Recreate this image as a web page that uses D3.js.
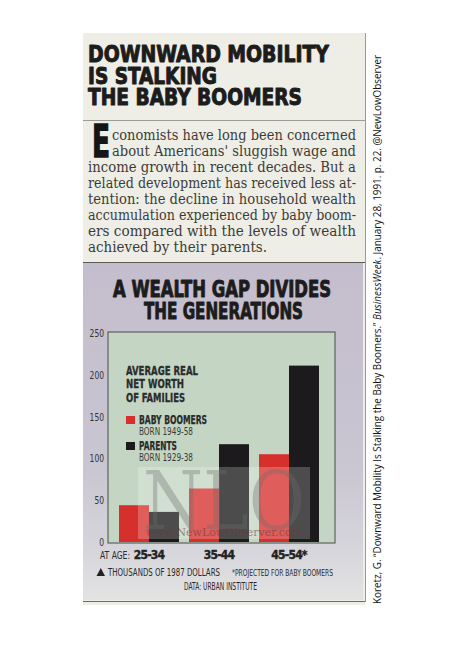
<!DOCTYPE html>
<html>
<head>
<meta charset="utf-8">
<script src="https://cdn.jsdelivr.net/npm/d3@7"></script>
<style>
  html, body { margin: 0; padding: 0; background: #ffffff; }
  svg { display: block; }
</style>
</head>
<body>
<svg id="chart" width="474" height="651"></svg>
<script>
// ---- data ----
const categories = ["25-34", "35-44", "45-54"];
const categoryLabels = ["25-34", "35-44", "45-54*"];
const seriesNames = ["BABY BOOMERS", "PARENTS"];
const seriesBorn = ["BORN 1949-58", "BORN 1929-38"];
const boomers = [44, 64, 105];
const parents = [36, 117, 211];
const yTicks = [0, 50, 100, 150, 200, 250];

const headline = ["DOWNWARD MOBILITY", "IS STALKING", "THE BABY BOOMERS"];
const bodyLines = [
  "conomists have long been concerned",
  "about Americans' sluggish wage and",
  "income growth in recent decades. But a",
  "related development has received less at-",
  "tention: the decline in household wealth",
  "accumulation experienced by baby boom-",
  "ers compared with the levels of wealth",
  "achieved by their parents."
];
const chartTitle = ["A WEALTH GAP DIVIDES", "THE GENERATIONS"];
const legendTitle = ["AVERAGE REAL", "NET WORTH", "OF FAMILIES"];

const svg = d3.select("#chart");
const COND = "'DejaVu Sans Condensed', 'DejaVu Sans', sans-serif";
const SERIF = "'DejaVu Serif', 'Liberation Serif', serif";
const ink = "#2a2a2a";

// ---- page background pieces ----
const defs = svg.append("defs");
const grad = defs.append("linearGradient").attr("id", "panelGrad")
  .attr("x1", 0).attr("y1", 0).attr("x2", 0).attr("y2", 1);
grad.append("stop").attr("offset", "0%").attr("stop-color", "#c4bdcd");
grad.append("stop").attr("offset", "60%").attr("stop-color", "#c9c5d1");
grad.append("stop").attr("offset", "85%").attr("stop-color", "#d6d5db");
grad.append("stop").attr("offset", "100%").attr("stop-color", "#e3e3e3");

svg.append("rect").attr("x", 83).attr("y", 33).attr("width", 282).attr("height", 572)
  .attr("fill", "#efeee6");
svg.append("rect").attr("x", 83).attr("y", 263).attr("width", 280).attr("height", 337)
  .attr("fill", "url(#panelGrad)");
svg.append("line").attr("x1", 83).attr("x2", 365).attr("y1", 120.5).attr("y2", 120.5)
  .attr("stroke", "#9c9c94").attr("stroke-width", 1);
svg.append("line").attr("x1", 83).attr("x2", 365).attr("y1", 262.5).attr("y2", 262.5)
  .attr("stroke", "#5a5a58").attr("stroke-width", 1.2);
svg.append("line").attr("x1", 83).attr("x2", 366).attr("y1", 601.5).attr("y2", 601.5)
  .attr("stroke", "#6a6a68").attr("stroke-width", 1.2);
svg.append("line").attr("x1", 365.5).attr("x2", 365.5).attr("y1", 33).attr("y2", 602)
  .attr("stroke", "#9a9a98").attr("stroke-width", 1);

// ---- headline ----
const headLens = [241, 129, 214];
const headBase = [62, 83.5, 105];
svg.append("g").selectAll("text").data(headline).join("text")
  .attr("x", 88).attr("y", (d, i) => headBase[i])
  .attr("textLength", (d, i) => headLens[i]).attr("lengthAdjust", "spacingAndGlyphs")
  .attr("font-family", COND).attr("font-weight", 900).attr("font-size", 23.5)
  .attr("fill", "#1c1c1c").attr("stroke", "#1c1c1c").attr("stroke-width", 1)
  .attr("stroke-linejoin", "round").text(d => d);

// ---- body text ----
svg.append("text").attr("x", 92).attr("y", 157)
  .attr("textLength", 18).attr("lengthAdjust", "spacingAndGlyphs")
  .attr("font-family", "'DejaVu Sans', sans-serif").attr("font-weight", 900)
  .attr("font-size", 44).attr("fill", "#151515").attr("stroke", "#151515").attr("stroke-width", 1.5)
  .text("E");

svg.append("g").selectAll("text").data(bodyLines).join("text")
  .attr("x", (d, i) => i < 2 ? 112 : 88)
  .attr("y", (d, i) => 140 + i * 16)
  .attr("textLength", (d, i) => i === bodyLines.length - 1 ? 179 : (i < 2 ? 244 : 268))
  .attr("lengthAdjust", "spacingAndGlyphs")
  .attr("font-family", SERIF).attr("font-size", 14)
  .attr("fill", "#3c3c3a").text(d => d);

// ---- chart title ----
const titleX = [113, 144], titleLen = [218, 159], titleBase = [297, 318.5];
svg.append("g").selectAll("text").data(chartTitle).join("text")
  .attr("x", (d, i) => titleX[i]).attr("y", (d, i) => titleBase[i])
  .attr("textLength", (d, i) => titleLen[i]).attr("lengthAdjust", "spacingAndGlyphs")
  .attr("font-family", COND).attr("font-weight", 900).attr("font-size", 23)
  .attr("fill", "#1c1c1c").attr("stroke", "#1c1c1c").attr("stroke-width", 0.9)
  .attr("stroke-linejoin", "round").text(d => d);

// ---- scales ----
const plot = { left: 108, right: 335, top: 332, bottom: 543 };
const y = d3.scaleLinear().domain([0, 250]).range([542, 333]);
const x0 = d3.scaleBand().domain(categories).range([114, 324]).paddingInner(1 / 7).paddingOuter(1 / 14);
const x1 = d3.scaleBand().domain([0, 1]).range([0, x0.bandwidth()]);
const colors = ["#d6302c", "#1c1a1c"];

// plot background
svg.append("rect").attr("x", plot.left).attr("y", plot.top)
  .attr("width", plot.right - plot.left).attr("height", plot.bottom - plot.top)
  .attr("fill", "#c4d6c3").attr("stroke", "#4a4a4a").attr("stroke-width", 1);

// bars
const rows = categories.map((c, i) => ({ c, vals: [boomers[i], parents[i]] }));
const gBars = svg.append("g");
gBars.selectAll("g").data(rows).join("g")
  .attr("transform", d => `translate(${x0(d.c)},0)`)
  .selectAll("rect").data(d => d.vals.map((v, k) => ({ v, k }))).join("rect")
  .attr("x", d => x1(d.k)).attr("width", x1.bandwidth())
  .attr("y", d => y(d.v)).attr("height", d => y(0) - y(d.v))
  .attr("fill", d => colors[d.k]);

// y axis labels
const yAxis = svg.append("g").attr("transform", "translate(105,0)")
  .call(d3.axisLeft(y).tickValues(yTicks).tickSize(0).tickPadding(1));
yAxis.select(".domain").remove();
yAxis.selectAll("text").attr("font-family", COND).attr("font-size", 11)
  .attr("fill", "#333")
  .attr("textLength", d => String(d).length * 4.8).attr("lengthAdjust", "spacingAndGlyphs");

// x axis labels
const xAxis = svg.append("g").attr("transform", "translate(0,547)")
  .call(d3.axisBottom(x0).tickSize(0).tickPadding(3).tickFormat((d, i) => categoryLabels[i]));
xAxis.select(".domain").remove();
xAxis.selectAll("text").attr("font-family", COND).attr("font-weight", "bold")
  .attr("font-size", 12).attr("fill", "#222").attr("stroke", "#222").attr("stroke-width", 0.4)
  .attr("letter-spacing", -0.8);

svg.append("text").attr("x", 100).attr("y", 558.5).attr("textLength", 30).attr("lengthAdjust", "spacingAndGlyphs")
  .attr("font-family", COND).attr("font-size", 10).attr("fill", ink).text("AT AGE:");

// ---- legend ----
svg.append("g").selectAll("text").data(legendTitle).join("text")
  .attr("x", 126).attr("y", (d, i) => 374.5 + i * 13.5)
  .attr("textLength", (d, i) => [72, 58, 59][i]).attr("lengthAdjust", "spacingAndGlyphs")
  .attr("font-family", COND).attr("font-weight", "bold").attr("font-size", 12.5)
  .attr("fill", "#2b2b2b").attr("stroke", "#2b2b2b").attr("stroke-width", 0.3).text(d => d);

const legY = [424, 450];
const leg = svg.append("g");
seriesNames.forEach((name, k) => {
  leg.append("rect").attr("x", 126).attr("y", legY[k] - 8).attr("width", 9).attr("height", 8)
    .attr("fill", colors[k]);
  leg.append("text").attr("x", 139).attr("y", legY[k])
    .attr("textLength", [68, 38][k]).attr("lengthAdjust", "spacingAndGlyphs")
    .attr("font-family", COND).attr("font-weight", "bold").attr("font-size", 11.5)
    .attr("fill", "#2b2b2b").attr("stroke", "#2b2b2b").attr("stroke-width", 0.25).text(name);
  leg.append("text").attr("x", 139).attr("y", legY[k] + 11)
    .attr("textLength", 54).attr("lengthAdjust", "spacingAndGlyphs")
    .attr("font-family", COND).attr("font-size", 10)
    .attr("fill", "#3a3a3a").text(seriesBorn[k]);
});

// ---- watermark ----
const wm = svg.append("g");
wm.append("rect").attr("x", 138).attr("y", 467).attr("width", 172).attr("height", 72)
  .attr("fill", "#ffffff").attr("opacity", 0.22);
wm.append("text").attr("x", 224).attr("y", 529).attr("text-anchor", "middle")
  .attr("textLength", 162).attr("lengthAdjust", "spacingAndGlyphs")
  .attr("font-family", SERIF).attr("font-size", 80).attr("fill", "#6e6e6e")
  .attr("opacity", 0.35).text("NLO");
wm.append("text").attr("x", 224).attr("y", 536).attr("text-anchor", "middle")
  .attr("textLength", 156).attr("lengthAdjust", "spacingAndGlyphs")
  .attr("font-family", SERIF).attr("font-size", 11).attr("fill", "#6a3a3a")
  .attr("opacity", 0.55).text("www.NewLowObserver.com");

// ---- footer notes ----
svg.append("path").attr("d", "M96.5,576 L100.8,568 L105,576 Z").attr("fill", "#222");
svg.append("text").attr("x", 108).attr("y", 576).attr("textLength", 112).attr("lengthAdjust", "spacingAndGlyphs")
  .attr("font-family", COND).attr("font-size", 10.5).attr("fill", ink).text("THOUSANDS OF 1987 DOLLARS");
svg.append("text").attr("x", 232).attr("y", 575.5).attr("textLength", 101).attr("lengthAdjust", "spacingAndGlyphs")
  .attr("font-family", COND).attr("font-size", 8.5).attr("fill", ink).text("*PROJECTED FOR BABY BOOMERS");
svg.append("text").attr("x", 184).attr("y", 589.5).attr("textLength", 73).attr("lengthAdjust", "spacingAndGlyphs")
  .attr("font-family", COND).attr("font-size", 10.5).attr("fill", ink).text("DATA: URBAN INSTITUTE");

// ---- rotated citation ----
const cite = svg.append("text")
  .attr("transform", "translate(381,604) rotate(-90)")
  .attr("textLength", 549).attr("lengthAdjust", "spacingAndGlyphs")
  .attr("font-family", "'Open Sans', 'Liberation Sans', sans-serif").attr("font-size", 11.5)
  .attr("fill", "#111");
cite.append("tspan").text("Koretz, G. \u201cDownward Mobility Is Stalking the Baby Boomers.\u201d ");
cite.append("tspan").attr("font-style", "italic").text("BusinessWeek");
cite.append("tspan").text(". January 28, 1991. p. 22. @NewLowObserver");
</script>
</body>
</html>
